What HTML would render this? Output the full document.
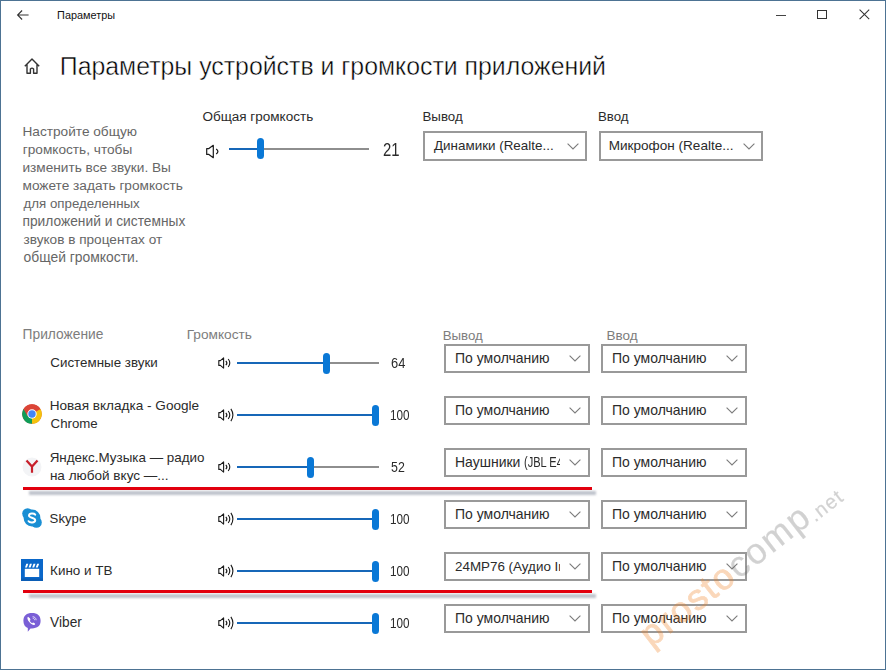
<!DOCTYPE html>
<html><head><meta charset="utf-8"><style>
*{margin:0;padding:0;box-sizing:border-box}
html,body{width:886px;height:670px;overflow:hidden;background:#fff}
body{position:relative;font-family:"Liberation Sans",sans-serif;color:#000}
#frame{position:absolute;left:0;top:0;width:886px;height:670px;border:1px solid #4d7393;z-index:50}
.t{position:absolute;white-space:nowrap;line-height:1}
.dd{position:absolute;border:2px solid #999;background:#fff;overflow:hidden}
.track{position:absolute;height:2px;background:#8e8e8e}
.fill{position:absolute;height:2px;background:#1767b8}
.thumb{position:absolute;border-radius:4px;background:#0a78d6}
.red{position:absolute;height:3px;background:#e2000e}
.sh{position:absolute;height:4px;background:#bfc3cc;filter:blur(1px)}
</style></head><body>
<div id="frame"></div>
<svg style="position:absolute;left:16px;top:9px" width="14" height="12" viewBox="0 0 14 12"><path d="M12.6 6 H1.6 M6.1 1.5 L1.6 6 L6.1 10.5" fill="none" stroke="#333" stroke-width="1.1"/></svg>
<div class="t" style="left:57.10px;top:10px;font-size:10.87px;color:#111;">Параметры</div>
<div style="position:absolute;left:776px;top:14.5px;width:10px;height:1px;background:#444"></div>
<div style="position:absolute;left:817px;top:9.5px;width:10px;height:9.5px;border:1px solid #333"></div>
<svg style="position:absolute;left:859px;top:9px" width="11" height="11" viewBox="0 0 11 11"><path d="M0.6 0.6 L10.2 10.2 M10.2 0.6 L0.6 10.2" stroke="#333" stroke-width="1.05"/></svg>
<svg style="position:absolute;left:23px;top:57px" width="18" height="18" viewBox="0 0 18 18"><path d="M1.8 9.2 L9 2 L16.2 9.2 M4 7.3 V16.2 H7.4 V12 Q9 10.2 10.6 12 V16.2 H14 V7.3" fill="none" stroke="#333" stroke-width="1.4" stroke-linejoin="round"/></svg>
<div class="t" style="left:59.80px;top:55px;font-size:24.85px;color:#000;-webkit-text-stroke:0.45px #fff;">Параметры устройств и громкости приложений</div>
<div class="t" style="left:22.50px;top:125px;font-size:13.65px;color:#666;">Настройте общую</div>
<div class="t" style="left:22.80px;top:143px;font-size:13.65px;color:#666;">громкость, чтобы</div>
<div class="t" style="left:22.50px;top:161px;font-size:13.63px;color:#666;">изменить все звуки. Вы</div>
<div class="t" style="left:22.50px;top:179px;font-size:13.67px;color:#666;">можете задать громкость</div>
<div class="t" style="left:23.50px;top:197px;font-size:13.3px;color:#666;">для определенных</div>
<div class="t" style="left:22.50px;top:215px;font-size:13.78px;color:#666;">приложений и системных</div>
<div class="t" style="left:23.50px;top:233px;font-size:13.61px;color:#666;">звуков в процентах от</div>
<div class="t" style="left:23.50px;top:251px;font-size:13.89px;color:#666;">общей громкости.</div>
<div class="t" style="left:202.40px;top:110px;font-size:13.53px;color:#2b2b2b;">Общая громкость</div>
<svg style="position:absolute;left:205px;top:144px;overflow:visible" width="16" height="15"><path d="M1.7 4.6 H3.9 L8.3 1.3 V13.7 L3.9 10.4 H1.7 Z" fill="none" stroke="#1a1a1a" stroke-width="1.2" stroke-linejoin="round"/><path d="M11.2 4.9 Q14.6 7.5 11.2 10.1" fill="none" stroke="#1a1a1a" stroke-width="1.25"/></svg>
<div class="track" style="left:229px;top:147.8px;width:140px"></div><div class="fill" style="left:229px;top:147.8px;width:31.4px"></div><div class="thumb" style="left:256.9px;top:138.3px;width:7.0px;height:21px"></div>
<div class="t" style="left:383.00px;top:142px;font-size:17.5px;color:#2b2b2b;transform:scaleX(0.85);transform-origin:0 0">21</div>
<div class="t" style="left:422.50px;top:110px;font-size:13.3px;color:#2b2b2b;">Вывод</div>
<div class="t" style="left:598.00px;top:110px;font-size:13.26px;color:#2b2b2b;">Ввод</div>
<div class="dd" style="left:423px;top:131px;width:164px;height:30px"><div class="t" style="left:9.00px;top:6px;font-size:13.42px;color:#2b2b2b">Динамики (Realte...</div><svg width="12" height="7" viewBox="0 0 12 7" style="position:absolute;left:142.0px;top:10.0px"><path d="M0.6 0.6 L6 6 L11.4 0.6" fill="none" stroke="#7c7c7c" stroke-width="1.1"/></svg></div>
<div class="dd" style="left:599px;top:131px;width:164px;height:30px"><div class="t" style="left:7.70px;top:6px;font-size:13.57px;color:#2b2b2b">Микрофон (Realte...</div><svg width="12" height="7" viewBox="0 0 12 7" style="position:absolute;left:142.0px;top:10.0px"><path d="M0.6 0.6 L6 6 L11.4 0.6" fill="none" stroke="#7c7c7c" stroke-width="1.1"/></svg></div>
<div class="t" style="left:22.60px;top:328px;font-size:13.79px;color:#7d7d7d;">Приложение</div>
<div class="t" style="left:186.70px;top:328px;font-size:13.7px;color:#7d7d7d;">Громкость</div>
<div class="t" style="left:442.70px;top:329px;font-size:13.27px;color:#7d7d7d;">Вывод</div>
<div class="t" style="left:606.60px;top:329px;font-size:13.49px;color:#7d7d7d;">Ввод</div>
<div class="t" style="left:50.30px;top:356px;font-size:13.37px;color:#2b2b2b;">Системные звуки</div>
<svg style="position:absolute;left:217.8px;top:355.50px;overflow:visible" width="16.0" height="14.0"><path d="M0.80 4.60 H2.40 L5.60 1.90 V12.10 L2.40 9.40 H0.80 Z" fill="none" stroke="#1a1a1a" stroke-width="1.1" stroke-linejoin="round"/><path d="M7.80 4.80 Q10.00 7.00 7.80 9.20" fill="none" stroke="#1a1a1a" stroke-width="1.1"/><path d="M10.20 3.00 Q13.40 7.00 10.20 11.00" fill="none" stroke="#1a1a1a" stroke-width="1.1"/></svg>
<div class="track" style="left:237px;top:362.45px;width:142px"></div><div class="fill" style="left:237px;top:362.45px;width:89.9px"></div><div class="thumb" style="left:323.4px;top:352.9px;width:7.0px;height:21px"></div>
<div class="t" style="left:390.90px;top:356px;font-size:14.0px;color:#2b2b2b;transform:scaleX(0.92);transform-origin:0 0">64</div>
<div class="dd" style="left:444px;top:344px;width:146px;height:29px"><div class="t" style="left:9.00px;top:5px;font-size:13.99px;color:#2b2b2b">По умолчанию</div><svg width="12" height="7" viewBox="0 0 12 7" style="position:absolute;left:122.8px;top:8.8px"><path d="M0.6 0.6 L6 6 L11.4 0.6" fill="none" stroke="#7c7c7c" stroke-width="1.1"/></svg></div>
<div class="dd" style="left:601px;top:344px;width:146px;height:29px"><div class="t" style="left:9.00px;top:5px;font-size:13.99px;color:#2b2b2b">По умолчанию</div><svg width="12" height="7" viewBox="0 0 12 7" style="position:absolute;left:122.8px;top:8.8px"><path d="M0.6 0.6 L6 6 L11.4 0.6" fill="none" stroke="#7c7c7c" stroke-width="1.1"/></svg></div>
<svg style="position:absolute;left:22px;top:403.7px" width="20" height="20" viewBox="0 0 20 20">
<circle cx="10" cy="10" r="9.8" fill="#db4437"/>
<path d="M10 10 L1.5 5.1 A9.8 9.8 0 0 0 10 19.8 Z" fill="#0f9d58"/>
<path d="M10 10 L10 19.8 A9.8 9.8 0 0 0 18.5 5.1 Z" fill="#f4c20d"/>
<path d="M10 5.2 H18.5 A9.8 9.8 0 0 0 1.5 5.1 L5.8 12.4 Z" fill="#db4437"/>
<circle cx="10" cy="10" r="4.7" fill="#fff"/><circle cx="10" cy="10" r="3.7" fill="#4285f4"/></svg>
<div class="t" style="left:49.70px;top:399px;font-size:13.58px;color:#2b2b2b;">Новая вкладка - Google</div>
<div class="t" style="left:50.60px;top:417px;font-size:13.25px;color:#2b2b2b;">Chrome</div>
<svg style="position:absolute;left:217.8px;top:407.50px;overflow:visible" width="16.0" height="14.0"><path d="M0.80 4.60 H2.40 L5.60 1.90 V12.10 L2.40 9.40 H0.80 Z" fill="none" stroke="#1a1a1a" stroke-width="1.1" stroke-linejoin="round"/><path d="M7.80 4.80 Q10.00 7.00 7.80 9.20" fill="none" stroke="#1a1a1a" stroke-width="1.1"/><path d="M10.20 3.00 Q13.40 7.00 10.20 11.00" fill="none" stroke="#1a1a1a" stroke-width="1.1"/><path d="M12.90 0.90 Q16.90 7.00 12.90 13.10" fill="none" stroke="#1a1a1a" stroke-width="1.1"/></svg>
<div class="track" style="left:237px;top:414.45px;width:142px"></div><div class="fill" style="left:237px;top:414.45px;width:138.5px"></div><div class="thumb" style="left:372.0px;top:404.9px;width:7.0px;height:21px"></div>
<div class="t" style="left:390.00px;top:408px;font-size:14.0px;color:#2b2b2b;transform:scaleX(0.836);transform-origin:0 0">100</div>
<div class="dd" style="left:444px;top:396px;width:146px;height:29px"><div class="t" style="left:9.00px;top:5px;font-size:13.99px;color:#2b2b2b">По умолчанию</div><svg width="12" height="7" viewBox="0 0 12 7" style="position:absolute;left:122.8px;top:8.8px"><path d="M0.6 0.6 L6 6 L11.4 0.6" fill="none" stroke="#7c7c7c" stroke-width="1.1"/></svg></div>
<div class="dd" style="left:601px;top:396px;width:146px;height:29px"><div class="t" style="left:9.00px;top:5px;font-size:13.99px;color:#2b2b2b">По умолчанию</div><svg width="12" height="7" viewBox="0 0 12 7" style="position:absolute;left:122.8px;top:8.8px"><path d="M0.6 0.6 L6 6 L11.4 0.6" fill="none" stroke="#7c7c7c" stroke-width="1.1"/></svg></div>
<svg style="position:absolute;left:22px;top:457px" width="20" height="20" viewBox="0 0 20 20">
<circle cx="10" cy="10" r="9.5" fill="#f3f4f6"/>
<path d="M4.5 3.4 L10 9.6 L15.5 3.4 M10 9.6 V15.7" fill="none" stroke="#c8202b" stroke-width="2.2"/></svg>
<div class="t" style="left:49.70px;top:451px;font-size:13.42px;color:#2b2b2b;">Яндекс.Музыка — радио</div>
<div class="t" style="left:49.90px;top:469px;font-size:13.56px;color:#2b2b2b;">на любой вкус —...</div>
<svg style="position:absolute;left:217.8px;top:459.50px;overflow:visible" width="16.0" height="14.0"><path d="M0.80 4.60 H2.40 L5.60 1.90 V12.10 L2.40 9.40 H0.80 Z" fill="none" stroke="#1a1a1a" stroke-width="1.1" stroke-linejoin="round"/><path d="M7.80 4.80 Q10.00 7.00 7.80 9.20" fill="none" stroke="#1a1a1a" stroke-width="1.1"/><path d="M10.20 3.00 Q13.40 7.00 10.20 11.00" fill="none" stroke="#1a1a1a" stroke-width="1.1"/></svg>
<div class="track" style="left:237px;top:466.45px;width:142px"></div><div class="fill" style="left:237px;top:466.45px;width:73.7px"></div><div class="thumb" style="left:307.2px;top:456.9px;width:7.0px;height:21px"></div>
<div class="t" style="left:391.10px;top:460px;font-size:14.0px;color:#2b2b2b;transform:scaleX(0.883);transform-origin:0 0">52</div>
<div class="dd" style="left:444px;top:448px;width:146px;height:29px"><div style="position:absolute;left:9.00px;top:0;width:104.8px;height:100%;overflow:hidden"><div class="t" style="left:0;top:5px;font-size:13.99px;color:#2b2b2b">Наушники <span style="display:inline-block;transform:scaleX(0.79);transform-origin:0 0">(JBL E4</span></div></div><svg width="12" height="7" viewBox="0 0 12 7" style="position:absolute;left:122.8px;top:8.8px"><path d="M0.6 0.6 L6 6 L11.4 0.6" fill="none" stroke="#7c7c7c" stroke-width="1.1"/></svg></div>
<div class="dd" style="left:601px;top:448px;width:146px;height:29px"><div class="t" style="left:9.00px;top:5px;font-size:13.99px;color:#2b2b2b">По умолчанию</div><svg width="12" height="7" viewBox="0 0 12 7" style="position:absolute;left:122.8px;top:8.8px"><path d="M0.6 0.6 L6 6 L11.4 0.6" fill="none" stroke="#7c7c7c" stroke-width="1.1"/></svg></div>
<svg style="position:absolute;left:22px;top:507.7px" width="20" height="20" viewBox="0 0 20 20">
<circle cx="5.6" cy="5.6" r="5.4" fill="#1a8fd4"/><circle cx="14.4" cy="14.4" r="5.4" fill="#1a8fd4"/><circle cx="10" cy="10" r="8.4" fill="#1a8fd4"/>
<path d="M13.2 6.6 C12.2 5.3 7.2 4.8 7 7.6 C6.9 10.2 13.4 9.2 13.2 12.4 C13 15 7.8 15 6.6 13.2" fill="none" stroke="#fff" stroke-width="2" stroke-linecap="round"/></svg>
<div class="t" style="left:49.60px;top:512px;font-size:13.2px;color:#2b2b2b;">Skype</div>
<svg style="position:absolute;left:217.8px;top:511.50px;overflow:visible" width="16.0" height="14.0"><path d="M0.80 4.60 H2.40 L5.60 1.90 V12.10 L2.40 9.40 H0.80 Z" fill="none" stroke="#1a1a1a" stroke-width="1.1" stroke-linejoin="round"/><path d="M7.80 4.80 Q10.00 7.00 7.80 9.20" fill="none" stroke="#1a1a1a" stroke-width="1.1"/><path d="M10.20 3.00 Q13.40 7.00 10.20 11.00" fill="none" stroke="#1a1a1a" stroke-width="1.1"/><path d="M12.90 0.90 Q16.90 7.00 12.90 13.10" fill="none" stroke="#1a1a1a" stroke-width="1.1"/></svg>
<div class="track" style="left:237px;top:518.45px;width:142px"></div><div class="fill" style="left:237px;top:518.45px;width:138.5px"></div><div class="thumb" style="left:372.0px;top:509.0px;width:7.0px;height:21px"></div>
<div class="t" style="left:390.00px;top:512px;font-size:14.0px;color:#2b2b2b;transform:scaleX(0.836);transform-origin:0 0">100</div>
<div class="dd" style="left:444px;top:500px;width:146px;height:29px"><div class="t" style="left:9.00px;top:5px;font-size:13.99px;color:#2b2b2b">По умолчанию</div><svg width="12" height="7" viewBox="0 0 12 7" style="position:absolute;left:122.8px;top:8.8px"><path d="M0.6 0.6 L6 6 L11.4 0.6" fill="none" stroke="#7c7c7c" stroke-width="1.1"/></svg></div>
<div class="dd" style="left:601px;top:500px;width:146px;height:29px"><div class="t" style="left:9.00px;top:5px;font-size:13.99px;color:#2b2b2b">По умолчанию</div><svg width="12" height="7" viewBox="0 0 12 7" style="position:absolute;left:122.8px;top:8.8px"><path d="M0.6 0.6 L6 6 L11.4 0.6" fill="none" stroke="#7c7c7c" stroke-width="1.1"/></svg></div>
<svg style="position:absolute;left:21px;top:559.2px" width="22" height="22" viewBox="0 0 22 22">
<rect width="22" height="22" fill="#0a67c9"/>
<rect x="3.8" y="9.8" width="14.4" height="8.2" fill="#fff"/>
<path d="M4 8.4 L5.3 4.8 L7.3 4.8 L6 8.4 Z M7.6 8.4 L8.9 4.8 L10.9 4.8 L9.6 8.4 Z M11.2 8.4 L12.5 4.8 L14.5 4.8 L13.2 8.4 Z M14.8 8.4 L16.1 4.8 L18.1 4.8 L16.8 8.4 Z" fill="#fff"/>
<rect x="0" y="19.5" width="22" height="2.5" fill="#0b5db5"/></svg>
<div class="t" style="left:50.10px;top:564px;font-size:13.44px;color:#2b2b2b;">Кино и ТВ</div>
<svg style="position:absolute;left:217.8px;top:563.50px;overflow:visible" width="16.0" height="14.0"><path d="M0.80 4.60 H2.40 L5.60 1.90 V12.10 L2.40 9.40 H0.80 Z" fill="none" stroke="#1a1a1a" stroke-width="1.1" stroke-linejoin="round"/><path d="M7.80 4.80 Q10.00 7.00 7.80 9.20" fill="none" stroke="#1a1a1a" stroke-width="1.1"/><path d="M10.20 3.00 Q13.40 7.00 10.20 11.00" fill="none" stroke="#1a1a1a" stroke-width="1.1"/><path d="M12.90 0.90 Q16.90 7.00 12.90 13.10" fill="none" stroke="#1a1a1a" stroke-width="1.1"/></svg>
<div class="track" style="left:237px;top:570.45px;width:142px"></div><div class="fill" style="left:237px;top:570.45px;width:138.5px"></div><div class="thumb" style="left:372.0px;top:561.0px;width:7.0px;height:21px"></div>
<div class="t" style="left:390.00px;top:564px;font-size:14.0px;color:#2b2b2b;transform:scaleX(0.836);transform-origin:0 0">100</div>
<div class="dd" style="left:444px;top:552px;width:146px;height:29px"><div style="position:absolute;left:9.00px;top:0;width:104.8px;height:100%;overflow:hidden"><div class="t" style="left:0;top:6px;font-size:13.4px;color:#2b2b2b">24MP76 (Аудио Intel</div></div><svg width="12" height="7" viewBox="0 0 12 7" style="position:absolute;left:122.8px;top:8.8px"><path d="M0.6 0.6 L6 6 L11.4 0.6" fill="none" stroke="#7c7c7c" stroke-width="1.1"/></svg></div>
<div class="dd" style="left:601px;top:552px;width:146px;height:29px"><div class="t" style="left:9.00px;top:5px;font-size:13.99px;color:#2b2b2b">По умолчанию</div><svg width="12" height="7" viewBox="0 0 12 7" style="position:absolute;left:122.8px;top:8.8px"><path d="M0.6 0.6 L6 6 L11.4 0.6" fill="none" stroke="#7c7c7c" stroke-width="1.1"/></svg></div>
<svg style="position:absolute;left:21.5px;top:612px" width="20" height="21" viewBox="0 0 18 20">
<path d="M9 1 C14 1 17.2 3.4 17.2 8.4 C17.2 13.4 14 15.6 9 15.6 L7.6 15.6 L5 18.8 L5 15.2 C2.4 14.3 0.8 12 0.8 8.4 C0.8 3.4 4 1 9 1 Z" fill="#7a5fd6"/>
<path d="M5.2 4.6 C4.2 5.4 4.4 7.4 6.6 9.8 C8.8 12.2 11 12.8 12 11.8 L11.6 10.6 L10 10 L9.2 10.8 C8.2 10.4 7.4 9.4 6.8 8.4 L7.6 7.6 L7 6 Z" fill="#fff"/>
<path d="M9.6 4.4 C11.6 4.6 12.8 5.8 13 7.8 M9.6 5.8 C10.8 6 11.4 6.6 11.6 7.8" fill="none" stroke="#fff" stroke-width="0.7"/></svg>
<div class="t" style="left:50.10px;top:616px;font-size:13.71px;color:#2b2b2b;">Viber</div>
<svg style="position:absolute;left:217.8px;top:615.50px;overflow:visible" width="16.0" height="14.0"><path d="M0.80 4.60 H2.40 L5.60 1.90 V12.10 L2.40 9.40 H0.80 Z" fill="none" stroke="#1a1a1a" stroke-width="1.1" stroke-linejoin="round"/><path d="M7.80 4.80 Q10.00 7.00 7.80 9.20" fill="none" stroke="#1a1a1a" stroke-width="1.1"/><path d="M10.20 3.00 Q13.40 7.00 10.20 11.00" fill="none" stroke="#1a1a1a" stroke-width="1.1"/><path d="M12.90 0.90 Q16.90 7.00 12.90 13.10" fill="none" stroke="#1a1a1a" stroke-width="1.1"/></svg>
<div class="track" style="left:237px;top:622.45px;width:142px"></div><div class="fill" style="left:237px;top:622.45px;width:138.5px"></div><div class="thumb" style="left:372.0px;top:613.0px;width:7.0px;height:21px"></div>
<div class="t" style="left:390.00px;top:616px;font-size:14.0px;color:#2b2b2b;transform:scaleX(0.836);transform-origin:0 0">100</div>
<div class="dd" style="left:444px;top:604px;width:146px;height:29px"><div class="t" style="left:9.00px;top:5px;font-size:13.99px;color:#2b2b2b">По умолчанию</div><svg width="12" height="7" viewBox="0 0 12 7" style="position:absolute;left:122.8px;top:8.8px"><path d="M0.6 0.6 L6 6 L11.4 0.6" fill="none" stroke="#7c7c7c" stroke-width="1.1"/></svg></div>
<div class="dd" style="left:601px;top:604px;width:146px;height:29px"><div class="t" style="left:9.00px;top:5px;font-size:13.99px;color:#2b2b2b">По умолчанию</div><svg width="12" height="7" viewBox="0 0 12 7" style="position:absolute;left:122.8px;top:8.8px"><path d="M0.6 0.6 L6 6 L11.4 0.6" fill="none" stroke="#7c7c7c" stroke-width="1.1"/></svg></div>
<div class="sh" style="left:29px;top:491px;width:567px"></div>
<div class="red" style="left:23px;top:487px;width:569px"></div>
<div class="sh" style="left:29px;top:594px;width:567px"></div>
<div class="red" style="left:23px;top:590px;width:569px"></div>
<svg style="position:absolute;left:0;top:0;z-index:40" width="886" height="670" viewBox="0 0 886 670">
<g transform="rotate(-38 651.3 648.1)" font-family="Liberation Sans" font-size="36" letter-spacing="1.84" stroke-width="0.25" stroke-linejoin="round">
<g opacity="0.31"><text x="651.3" y="648.1" fill="#f08224" stroke="#f08224" stroke-width="0.8">prosto</text></g>
<g opacity="0.29"><text x="651.3" y="648.1" fill="#646464" stroke="#646464"><tspan fill-opacity="0" stroke-opacity="0">prosto</tspan>comp<tspan font-size="20" letter-spacing="1.2" dy="2">.net</tspan></text></g>
</g></svg>
</body></html>
